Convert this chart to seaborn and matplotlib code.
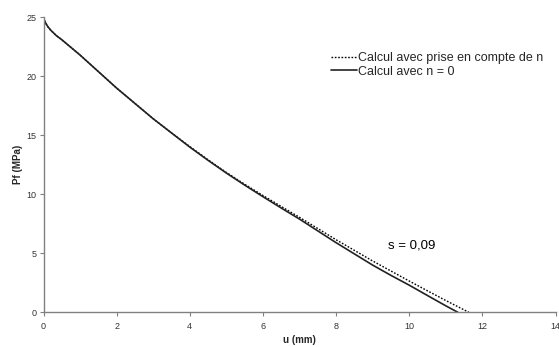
import matplotlib
matplotlib.use("Agg")
import matplotlib.pyplot as plt
import seaborn as sns
import pandas as pd

# Displacement u (mm) and pressure Pf (MPa)
u_with_n = [0, 0.03, 0.07, 0.12, 0.2, 0.35, 0.5, 0.75, 1, 1.5, 2, 2.5, 3, 3.5, 4, 4.5, 5, 5.5,
            6, 6.5, 7, 7.5, 8, 8.5, 9, 9.5, 10, 10.5, 11, 11.63]
pf_with_n = [25, 24.7, 24.45, 24.2, 23.9, 23.45, 23.1, 22.45, 21.8, 20.4, 19.0, 17.7, 16.4, 15.2,
             14.05, 12.92, 11.85, 10.85, 9.9, 8.97, 8.05, 7.1, 6.15, 5.25, 4.35, 3.5, 2.65, 1.82,
             1.0, 0]

u_n0 = [0, 0.03, 0.07, 0.12, 0.2, 0.35, 0.5, 0.75, 1, 1.5, 2, 2.5, 3, 3.5, 4, 4.5, 5, 5.5,
        6, 6.5, 7, 7.5, 8, 8.5, 9, 9.5, 10, 10.5, 11, 11.33]
pf_n0 = [25, 24.7, 24.45, 24.2, 23.9, 23.45, 23.1, 22.45, 21.8, 20.4, 19.0, 17.7, 16.4, 15.2,
         14.0, 12.88, 11.8, 10.78, 9.8, 8.84, 7.9, 6.9, 5.9, 4.95, 4.0, 3.13, 2.3, 1.42, 0.55, 0]

label_with_n = "Calcul avec prise en compte de n"
label_n0 = "Calcul avec n = 0"
x_ticks = [0, 2, 4, 6, 8, 10, 12, 14]
y_ticks = [0, 5, 10, 15, 20, 25]

sns.set_theme(style="white")
plt.rcParams["font.family"] = ["Liberation Sans", "DejaVu Sans"]

W, H = 559, 347
fig = plt.figure(figsize=(W / 100, H / 100), dpi=100)
ax = fig.add_axes([43.5 / W, 1 - 312.3 / H, 512 / W, 295 / H])

df1 = pd.DataFrame({"u": u_with_n, "Pf": pf_with_n})
df2 = pd.DataFrame({"u": u_n0, "Pf": pf_n0})
sns.lineplot(data=df1, x="u", y="Pf", ax=ax, color="black", linestyle=(0, (1.2, 1.2)),
             linewidth=1.0, label=label_with_n, sort=False)
sns.lineplot(data=df2, x="u", y="Pf", ax=ax, color="#222222", linestyle="-",
             linewidth=1.2, label=label_n0, sort=False)

ax.set_xlim(0, 14)
ax.set_ylim(0, 25)
ax.set_xticks(x_ticks)
ax.set_yticks(y_ticks)
ax.tick_params(axis="both", which="both", direction="out", length=3, width=0.8,
               color="#808080", labelsize=6.5, labelcolor="#333333", pad=2, bottom=True, left=True)
ax.tick_params(axis="x", pad=4)
for side in ("top", "right"):
    ax.spines[side].set_visible(False)
for side in ("left", "bottom"):
    ax.spines[side].set_color("#808080")
    ax.spines[side].set_linewidth(1.0)

ax.set_xlabel("u (mm)", fontsize=7, fontweight="bold", va="center")
ax.set_ylabel("Pf (MPa)", fontsize=7, fontweight="bold", va="center")
ax.xaxis.set_label_coords(0.5, -(340 - 312.3) / 295)
ax.yaxis.set_label_coords(-(43.5 - 18) / 512, 0.5)

ax.text(9.41, 5.7, "s = 0,09", fontsize=9.5, ha="left", va="center", color="black")

leg = ax.legend(loc="center left", bbox_to_anchor=(331 / W, 1 - 65 / H),
                bbox_transform=fig.transFigure, frameon=False, fontsize=9,
                handlelength=2.1, handletextpad=0.1, labelspacing=0.1, borderpad=0,
                borderaxespad=0)

fig.savefig("out.png", dpi=100)
